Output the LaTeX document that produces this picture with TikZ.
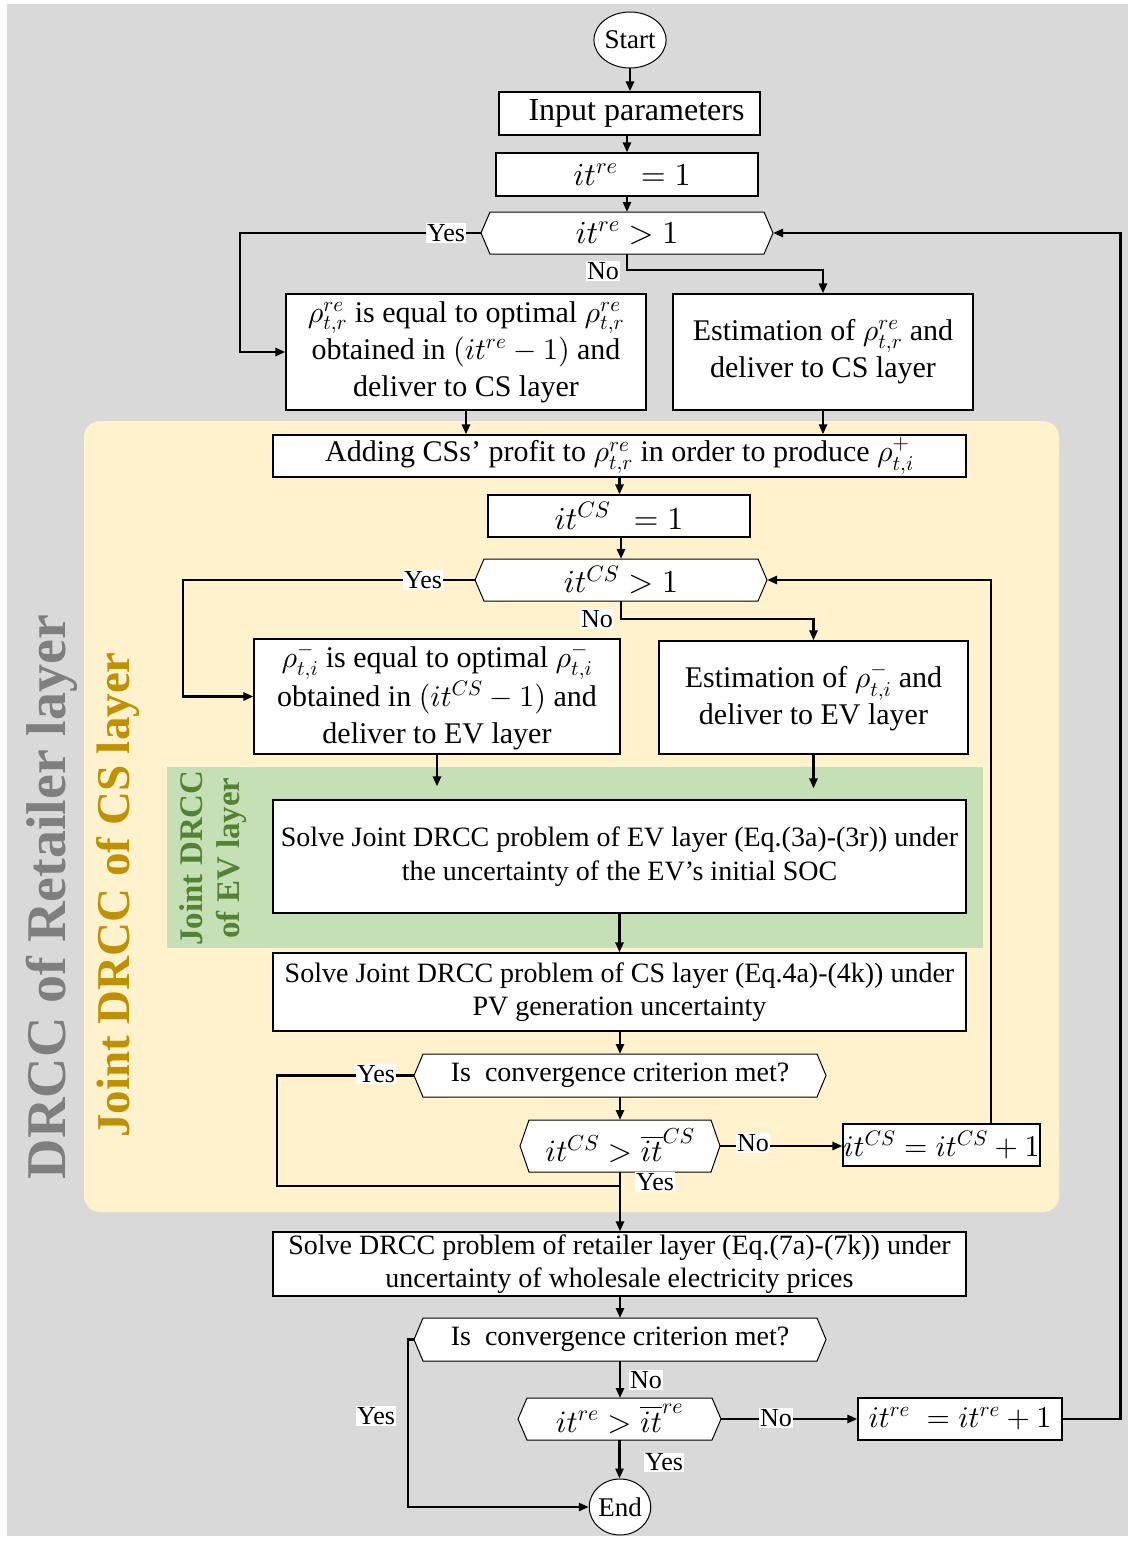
\documentclass[tikz,border=0pt]{standalone}
\DeclareFontShape{OT1}{cmr}{m}{n}{<->cmr10}{}
\DeclareFontShape{OML}{cmm}{m}{it}{<->cmmi10}{}
\DeclareFontShape{OMS}{cmsy}{m}{n}{<->cmsy10}{}
\DeclareFontShape{OMX}{cmex}{m}{n}{<->cmex10}{}
\usepackage{fontspec}
\setmainfont{Liberation Serif}
\usetikzlibrary{arrows.meta,shapes.geometric}
\definecolor{bggray}{HTML}{D9D9D9}
\definecolor{csyel}{HTML}{FFF2CC}
\definecolor{evgreen}{HTML}{C5E0B4}
\definecolor{retgray}{HTML}{7F7F7F}
\definecolor{csgold}{HTML}{BF9000}
\definecolor{evtext}{HTML}{548235}
\newcommand{\fsz}[2]{\fontsize{#1}{#2}\selectfont}
\newcommand{\hexbox}[6]{%
  \filldraw[fill=white,draw=black,line width=1pt] (#2-#4,#3) -- (#2-#4+9,#3-#5) -- (#2+#4-9,#3-#5) -- (#2+#4,#3) -- (#2+#4-9,#3+#5) -- (#2-#4+9,#3+#5) -- cycle;
  \node[hexn, minimum width=#4*2pt, minimum height=#5*2pt] (#1) at (#2,#3) {#6};}
\tikzset{
  box/.style={draw=black, fill=white, line width=1.2pt, inner sep=2pt, align=center, text=black},
  hexn/.style={inner sep=0pt, outer sep=0pt, align=center},
  lab/.style={fill=white, inner sep=1.5pt, font=\fsz{26}{28}},
  arr/.style={line width=2.6pt, -{Triangle[length=10pt,width=8pt]}},
  con/.style={line width=2.6pt},
  term/.style={ellipse, draw, fill=white, line width=1pt, minimum width=56pt, minimum height=56pt, inner sep=0pt, font=\fsz{27}{30}},
}
\begin{document}
\begin{tikzpicture}[x=1pt,y=-1pt]
\useasboundingbox (0,0) rectangle (1128,1544);
\fill[white] (0,0) rectangle (1128,1544);
\fill[bggray] (7,4) rectangle (1128,1536);
\fill[csyel, rounded corners=16pt] (84,421) rectangle (1059,1212);
\fill[evgreen] (167,767) rectangle (983,948);

% side labels
\node[rotate=90, text=retgray, font=\bfseries\fsz{56}{60}] (tret) at (52,897) {DRCC of Retailer layer};
\node[rotate=90, text=csgold, font=\bfseries\fsz{47}{50}] (tcs) at (118,895) {Joint DRCC of CS layer};
\node[rotate=90, text=evtext, font=\bfseries\fsz{33}{37}, align=center] (tev) at (213,858) {Joint DRCC\\of EV layer};

% nodes
\node[term] (start) at (630,40) {Start};
\node[box, minimum width=261pt, minimum height=43pt, font=\fsz{32}{36}] (inp) at (629.5,113.5) {\hspace*{14pt}Input parameters};
\node[box, minimum width=262pt, minimum height=43pt, font=\fsz{32}{36}] (itre1) at (627,174.5) {\hspace*{10pt}$it^{re}\;\,=1$};
\hexbox{dec1}{627}{233}{146}{21}{\fsz{32}{36}$it^{re}>1$}
\node[box, minimum width=360pt, minimum height=116pt, font=\fsz{30}{37}] (lb1) at (466,352) {$\rho_{t,r}^{re}$ is equal to optimal $\rho_{t,r}^{re}$\\obtained in $(it^{re}-1)$ and\\deliver to CS layer};
\node[box, minimum width=300pt, minimum height=116pt, font=\fsz{30}{37}] (rb1) at (823,352) {Estimation of $\rho_{t,r}^{re}$ and\\deliver to CS layer};
\node[box, minimum width=693pt, minimum height=42pt, font=\fsz{30}{36}] (add) at (619.5,456) {Adding CSs' profit to $\rho_{t,r}^{re}$ in order to produce $\rho_{t,i}^{+}$};
\node[box, minimum width=262pt, minimum height=42pt, font=\fsz{32}{36}] (itcs1) at (619,516) {$it^{CS}\;\,=1$};
\hexbox{dec2}{621}{580}{146}{21}{\fsz{32}{36}$it^{CS}>1$}
\node[box, minimum width=366pt, minimum height=115pt, font=\fsz{30}{37}] (lb2) at (437,696.5) {$\rho_{t,i}^{-}$ is equal to optimal $\rho_{t,i}^{-}$\\obtained in $(it^{CS}-1)$ and\\deliver to EV layer};
\node[box, minimum width=309pt, minimum height=113pt, font=\fsz{30}{37}] (rb2) at (813.5,697.5) {Estimation of $\rho_{t,i}^{-}$ and\\deliver to EV layer};
\node[box, minimum width=693pt, minimum height=113pt, font=\fsz{28}{34}] (ev) at (619.5,856.5) {Solve Joint DRCC problem of EV layer (Eq.(3a)-(3r)) under\\the uncertainty of the EV's initial SOC};
\node[box, minimum width=693pt, minimum height=78pt, font=\fsz{28}{33}] (cs) at (619.5,992) {Solve Joint DRCC problem of CS layer (Eq.4a)-(4k)) under\\PV generation uncertainty};
\hexbox{conv1}{620}{1075.5}{206}{21.5}{\fsz{28}{32}Is\ \ convergence criterion met?}
\hexbox{dec3}{620}{1146}{100}{26}{\fsz{31}{36}$it^{CS}>\overline{it}^{CS}$}
\node[box, minimum width=197pt, minimum height=42pt, inner sep=0pt, font=\fsz{30}{36}] (itcsinc) at (941.5,1145) {$it^{CS}=it^{CS}+1$};
\node[box, minimum width=693pt, minimum height=64pt, font=\fsz{28}{33}] (ret) at (619.5,1264) {Solve DRCC problem of retailer layer (Eq.(7a)-(7k)) under\\uncertainty of wholesale electricity prices};
\hexbox{conv2}{620}{1339.5}{206}{21.5}{\fsz{28}{32}Is\ \ convergence criterion met?}
\hexbox{dec4}{619.5}{1419}{101.5}{21}{\fsz{31}{36}$it^{re}>\overline{it}^{re}$}
\node[box, minimum width=204pt, minimum height=42pt, inner sep=0pt, font=\fsz{30}{36}] (itreinc) at (960,1419) {$it^{re}\;=it^{re}+1$};
\node[term] (end) at (620,1507) {End};
\coordinate (j1) at (620,1186);

% connectors
\draw[arr] (start) -- (start |- inp.north);
\draw[arr] (inp.south -| itre1.north) -- (itre1.north);
\draw[arr] (itre1.south) -- (dec1.north);
\draw[arr] (dec1.west) -- ++(-241,0) |- (lb1.west);
\draw[arr] (dec1.south) -- ++(0,16) -| (rb1.north);
\draw[arr] (lb1.south) -- (lb1.south |- add.north);
\draw[arr] (rb1.south) -- (rb1.south |- add.north);
\draw[arr] (add.south) -- (add.south |- itcs1.north);
\draw[arr] (itcs1.south -| dec2.north) -- (dec2.north);
\draw[arr] (dec2.west) -- ++(-292,0) |- (lb2.west);
\draw[arr] (dec2.south) -- ++(0,18) -| (rb2.north);
\draw[arr, shorten >=13pt] (lb2.south) -- (lb2.south |- ev.north);
\draw[arr, shorten >=11pt] (rb2.south) -- (rb2.south |- ev.north);
\draw[arr] (ev.south) -- (ev.south |- cs.north);
\draw[arr] (cs.south -| conv1.north) -- (conv1.north);
\draw[con] (conv1.west) -- ++(-137,0) |- (j1);
\draw[arr] (conv1.south) -- (dec3.north);
\draw[arr] (dec3.east) -- (dec3.east -| itcsinc.west);
\draw[arr] ([xshift=49.5pt]itcsinc.north) |- (dec2.east);
\draw[arr] (dec3.south) -- (dec3.south |- ret.north);
\draw[arr] (ret.south -| conv2.north) -- (conv2.north);
\draw[arr] (conv2.west) -- ++(-6,0) |- (end.west);
\draw[arr] (conv2.south) -- (conv2.south |- dec4.north);
\draw[arr] (dec4.east) -- (itreinc.west);
\draw[arr] (itreinc.east) -- ++(58,0) |- (dec1.east);
\draw[arr] (dec4.south) -- (dec4.south |- end.north);

% labels
\node[lab] (y1) at (446,233) {Yes};
\node[lab] (n1) at (603,271) {No};
\node[lab] (y2) at (423,580) {Yes};
\node[lab] (n2) at (597,619) {No};
\node[lab] (y3) at (376,1074) {Yes};
\node[lab] (n3) at (753,1143) {No};
\node[lab] (y4) at (655,1182) {Yes};
\node[lab] (y5) at (376,1416) {Yes};
\node[lab] (n4) at (646,1380) {No};
\node[lab] (n5) at (776,1418) {No};
\node[lab, draw=black!15] (y6) at (664,1462) {Yes};
\end{tikzpicture}
\end{document}
